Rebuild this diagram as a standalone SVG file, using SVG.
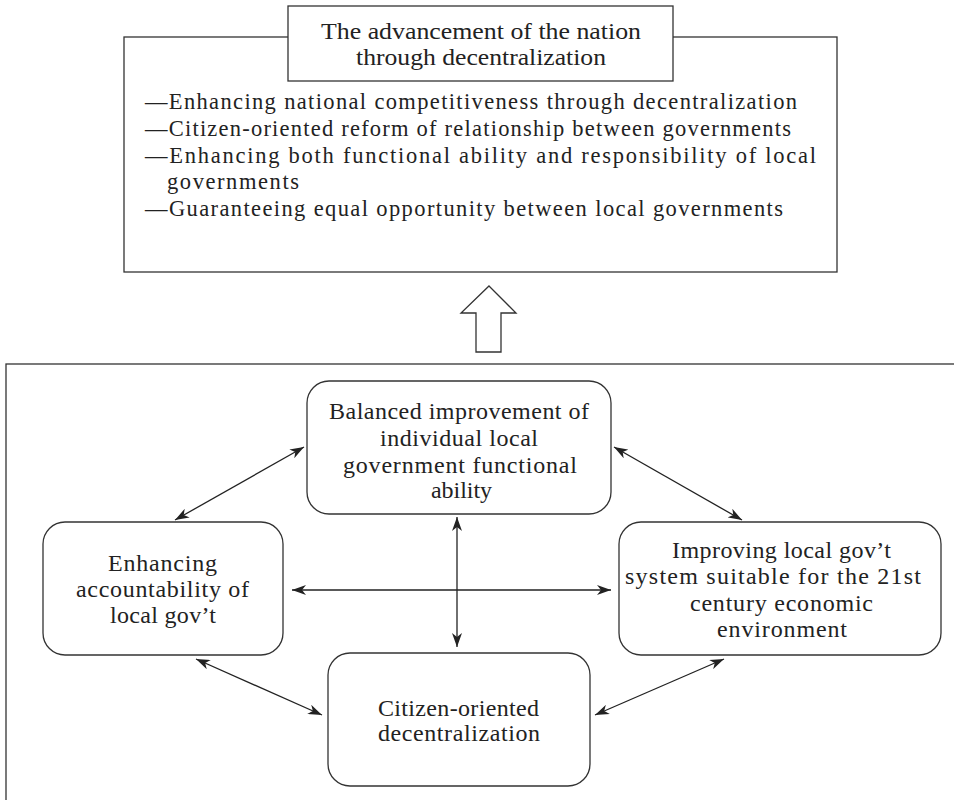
<svg xmlns="http://www.w3.org/2000/svg" width="954" height="800" viewBox="0 0 954 800">
<defs>
<style>
.box{fill:#fff;stroke:#333;stroke-width:1.3}
.node{fill:#fff;stroke:#333;stroke-width:1.3}
.t{font-family:"Liberation Serif","DejaVu Serif",serif;font-size:24px;fill:#222}
.b{font-family:"Liberation Serif","DejaVu Serif",serif;font-size:22.5px;fill:#222}
.con{stroke:#222;stroke-width:1.3;fill:none;marker-start:url(#ah);marker-end:url(#ah)}
</style>
<marker id="ah" markerUnits="userSpaceOnUse" markerWidth="14" markerHeight="10" viewBox="0 0 14 10" refX="14" refY="5" orient="auto-start-reverse">
<path d="M0,0 L14,5 L0,10 L4,5 z" fill="#222"/>
</marker>
</defs>
<rect width="954" height="800" fill="#fff"/>

<g id="goal">
<rect class="box" x="124" y="37" width="713" height="235"/>
<rect class="box" x="288" y="6" width="385" height="75"/>
<text class="t" x="321" y="39" textLength="320" lengthAdjust="spacingAndGlyphs">The advancement of the nation</text>
<text class="t" x="356" y="65" textLength="250" lengthAdjust="spacingAndGlyphs">through decentralization</text>
<text class="b" x="145" y="109" textLength="652" lengthAdjust="spacing">—Enhancing national competitiveness through decentralization</text>
<text class="b" x="145" y="136" textLength="646" lengthAdjust="spacing">—Citizen-oriented reform of relationship between governments</text>
<text class="b" x="145" y="163" textLength="671" lengthAdjust="spacing">—Enhancing both functional ability and responsibility of local</text>
<text class="b" x="167" y="189" textLength="132" lengthAdjust="spacing">governments</text>
<text class="b" x="145" y="216" textLength="638" lengthAdjust="spacing">—Guaranteeing equal opportunity between local governments</text>
</g>

<g id="up-arrow">
<polygon class="box" points="489,286 516,313 501,313 501,352 476,352 476,313 461,313"/>
</g>

<g id="frame">
<rect class="box" x="6" y="364" width="960" height="450"/>
</g>

<g id="connectors">
<line class="con" x1="304" y1="447" x2="175" y2="520"/>
<line class="con" x1="614" y1="447" x2="742" y2="520"/>
<line class="con" x1="457" y1="517" x2="457" y2="647"/>
<line class="con" x1="292" y1="590" x2="611" y2="590"/>
<line class="con" x1="196" y1="659" x2="322" y2="715"/>
<line class="con" x1="724" y1="659" x2="595" y2="715"/>
</g>

<g id="n-top">
<rect class="node" x="307" y="381" width="304" height="133" rx="22"/>
<text class="t" x="329" y="419" textLength="260" lengthAdjust="spacing">Balanced improvement of</text>
<text class="t" x="380" y="446" textLength="158" lengthAdjust="spacing">individual local</text>
<text class="t" x="343" y="473" textLength="234" lengthAdjust="spacing">government functional</text>
<text class="t" x="431" y="498" textLength="61" lengthAdjust="spacing">ability</text>
</g>

<g id="n-left">
<rect class="node" x="43" y="522" width="240" height="133" rx="22"/>
<text class="t" x="108" y="571" textLength="109" lengthAdjust="spacing">Enhancing</text>
<text class="t" x="76" y="597" textLength="173" lengthAdjust="spacing">accountability of</text>
<text class="t" x="110" y="623" textLength="106" lengthAdjust="spacing">local gov’t</text>
</g>

<g id="n-right">
<rect class="node" x="619" y="522" width="322" height="133" rx="22"/>
<text class="t" x="672" y="558" textLength="219" lengthAdjust="spacing">Improving local gov’t</text>
<text class="t" x="625" y="584" textLength="296" lengthAdjust="spacing">system suitable for the 21st</text>
<text class="t" x="690" y="611" textLength="183" lengthAdjust="spacing">century economic</text>
<text class="t" x="717" y="637" textLength="130" lengthAdjust="spacing">environment</text>
</g>

<g id="n-bottom">
<rect class="node" x="328" y="653" width="262" height="133" rx="22"/>
<text class="t" x="378" y="716" textLength="161" lengthAdjust="spacing">Citizen-oriented</text>
<text class="t" x="378" y="741" textLength="162" lengthAdjust="spacing">decentralization</text>
</g>
</svg>
